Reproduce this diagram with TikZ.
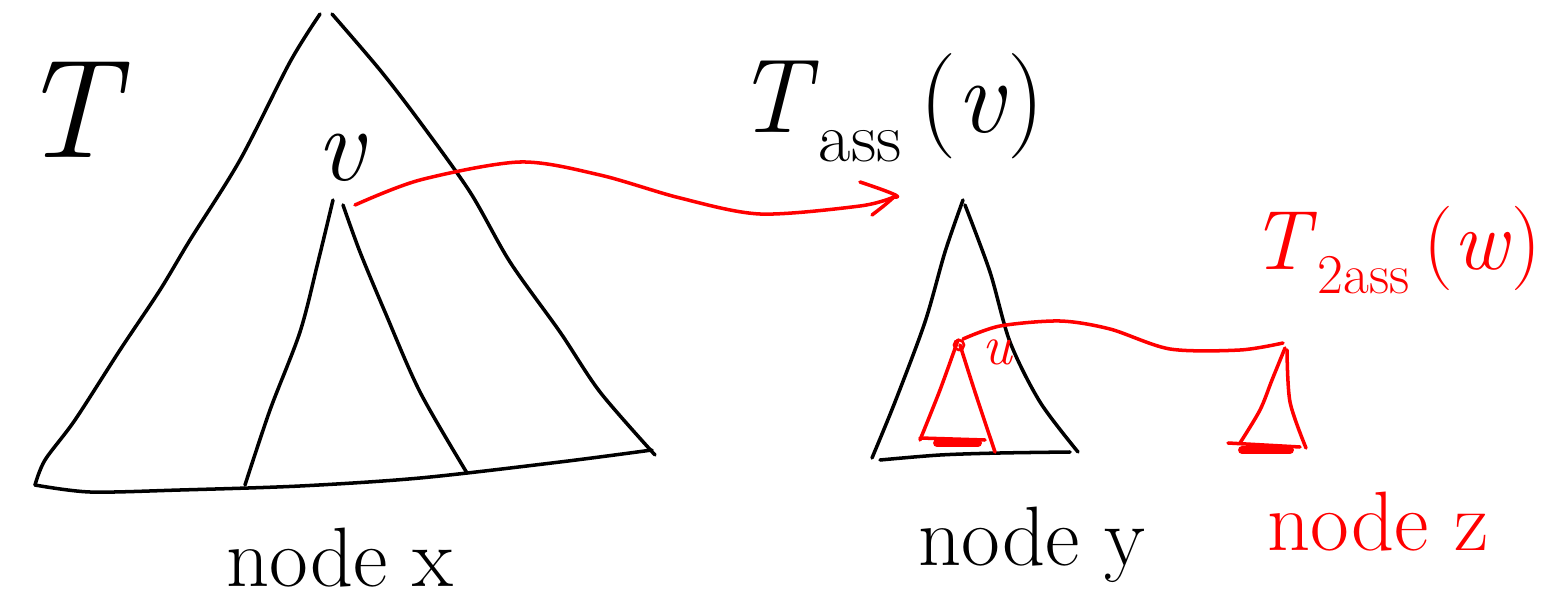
\documentclass[tikz,border=0pt]{standalone}
\usetikzlibrary{arrows.meta}
\newcommand{\subtx}[2]{\raisebox{-0.28em}{\fontsize{#1}{#1}\selectfont\upshape #2}}
\begin{document}
\begin{tikzpicture}[x=0.02cm,y=-0.02cm,
  pen/.style={line width=2pt, line cap=round, line join=round},
  blk/.style={pen, black},
  redpen/.style={pen, red},
  smear/.style={line width=4.5pt, line cap=round, red},
  lbl/.style={inner sep=0pt, font=\fontsize{48}{48}\selectfont},
  mlbl/.style={inner sep=0pt, font=\fontsize{60}{60}\selectfont},
  biglbl/.style={inner sep=0pt, font=\fontsize{80}{80}\selectfont}]
\useasboundingbox (0,0) rectangle (1543,615);

% ---- big tree T ----
\draw[blk] plot[smooth] coordinates {(320,14)(290,62)(240,160)(190,240)(160,290)(120,350)(75,420)(45,460)(35,485)};
\draw[blk] plot[smooth] coordinates {(332,14)(380,70)(420,122)(470,192)(510,262)(560,332)(600,392)(655,455)};
\draw[blk] plot[smooth] coordinates {(35,485)(90,492)(180,490)(300,486)(420,478)(560,462)(652,450)};
% subtree of v
\draw[blk] plot[smooth] coordinates {(333,200)(318,262)(300,332)(270,410)(245,485)};
\draw[blk] plot[smooth] coordinates {(343,205)(360,252)(385,312)(420,392)(467,473)};

\node[biglbl] (T) at (68,110) {\itshape T};
\node[mlbl] (v) at (340,158) {\itshape v};
\node[lbl] (nx) at (340,558) {node x};

% ---- T_ass(v) ----
\draw[blk] plot[smooth] coordinates {(963,200)(945,252)(925,322)(895,402)(872,458)};
\draw[blk] plot[smooth] coordinates {(965,205)(990,272)(1010,342)(1040,402)(1078,452)};
\draw[blk] plot[smooth] coordinates {(880,460)(940,455)(1000,453)(1070,452)};
\node[mlbl] (Tass) at (890,108) {\textit{T}\subtx{40}{ass}\,(\textit{v})};
\node[lbl] (ny) at (1032,545) {node y};

% red arrow from v to T_ass(v)
\coordinate (a0) at (355,205);
\coordinate (a1) at (894,197);
\draw[redpen] plot[smooth] coordinates {(a0)(420,180)(520,162)(600,175)(680,198)(760,214)(860,206)(a1)};
\draw[redpen] (860,182) .. controls (890,192) and (905,198) .. (a1) .. controls (885,205) .. (872,215);

% red subtree of u
\coordinate (u0) at (959,345);
\draw[redpen] plot[smooth] coordinates {(958,340)(940,390)(920,440)};
\draw[redpen] plot[smooth] coordinates {(960,345)(975,392)(995,452)};
\draw[redpen] (920,438) -- (985,440);
\draw[smear] (937,443) -- (978,443);
\draw[red, line width=1.5pt] (u0) circle[radius=5];
\node[inner sep=0pt, red, font=\fontsize{32}{32}\selectfont] (u) at (997,352) {\itshape u};

% ---- T_2ass(w) ----
\coordinate (w0) at (1283,343);
\draw[redpen] plot[smooth] coordinates {(963,339)(1000,326)(1060,321)(1110,329)(1170,349)(1240,350)(w0)};
\draw[redpen] plot[smooth] coordinates {(1285,348)(1272,380)(1260,410)(1240,443)};
\draw[redpen] plot[smooth] coordinates {(1287,350)(1290,402)(1306,448)};
\draw[redpen] (1228,443) -- (1300,447);
\draw[smear] (1242,450) -- (1290,450);
\node[inner sep=0pt, red, font=\fontsize{48}{48}\selectfont] (T2ass) at (1396,250) {\textit{T}\subtx{32}{2ass}\,(\textit{w})};
\node[lbl, red] (nz) at (1378,522) {node z};
\end{tikzpicture}
\end{document}
